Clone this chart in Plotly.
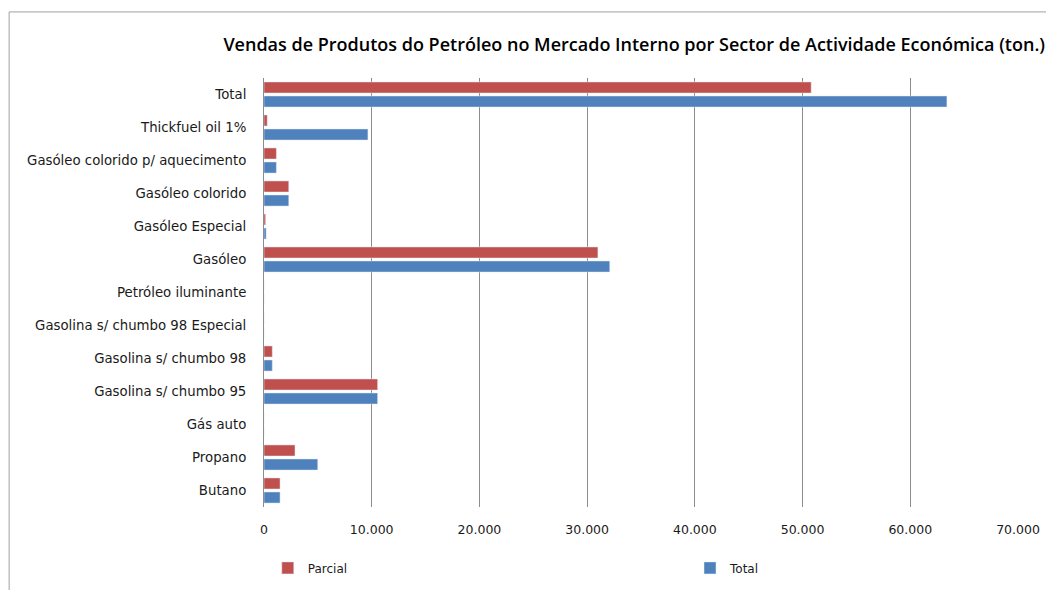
import plotly.graph_objects as go

categories = ["Butano", "Propano", "Gás auto", "Gasolina s/ chumbo 95", "Gasolina s/ chumbo 98",
              "Gasolina s/ chumbo 98 Especial", "Petróleo iluminante", "Gasóleo", "Gasóleo Especial",
              "Gasóleo colorido", "Gasóleo colorido p/ aquecimento", "Thickfuel oil 1%", "Total"]
parcial = [1490, 2880, 0, 10550, 770, 0, 0, 31000, 150, 2300, 1150, 300, 50800]
total = [1490, 4990, 0, 10550, 770, 0, 0, 32100, 200, 2300, 1150, 9650, 63400]
x_ticks = [0, 10000, 20000, 30000, 40000, 50000, 60000, 70000]

RED = "#C0504D"
BLUE = "#4F81BD"
TICKFONT = "DejaVu Sans"
TITLEFONT = "Open Sans"

fig = go.Figure()
fig.add_trace(go.Bar(y=categories, x=total, orientation="h", name="Total",
                     marker_color=BLUE, legend="legend2", showlegend=True))
fig.add_trace(go.Bar(y=categories, x=parcial, orientation="h", name="Parcial",
                     marker_color=RED, legend="legend", showlegend=True))

fig.update_layout(
    width=1054, height=590,
    margin=dict(l=256, r=44, t=70, b=91),
    paper_bgcolor="white", plot_bgcolor="white",
    separators=",.",
    showlegend=True,
    barmode="group", bargap=0.15, bargroupgap=0.21,
    font=dict(family=TICKFONT, size=12, color="#1a1a1a"),
    title=dict(text="Vendas de Produtos do Petróleo no Mercado Interno por Sector de Actividade Económica (ton.)",
               x=0.491, xref="paper", xanchor="center", y=0.937, yref="container", yanchor="middle",
               font=dict(family=TITLEFONT, size=18, color="#000000", weight=600)),
    legend=dict(orientation="h", x=0.005, y=-0.142, xanchor="left", yanchor="middle",
                font=dict(size=12), itemwidth=30, visible=True),
    legend2=dict(orientation="h", x=0.565, y=-0.142, xanchor="left", yanchor="middle",
                 font=dict(size=12), itemwidth=30, visible=True),
    xaxis=dict(range=[0, 70000], tickvals=x_ticks, tickformat=",.0f",
               showgrid=True, gridcolor="#8c8c8c", gridwidth=1, layer="above traces",
               zeroline=False, showline=False, ticks="", ticklabelstandoff=13,
               tickfont=dict(size=12.5)),
    yaxis=dict(showgrid=False, showline=True, linecolor="#8c8c8c", linewidth=1,
               ticks="", ticklabelstandoff=14, tickfont=dict(size=13.3)),
    shapes=[dict(type="rect", xref="paper", yref="paper",
                 x0=-0.338, x1=1.1, y0=-0.3, y1=1.154,
                 line=dict(color="#a0a0a0", width=1), fillcolor="rgba(0,0,0,0)", layer="below")],
)

fig.write_html("out.html")
